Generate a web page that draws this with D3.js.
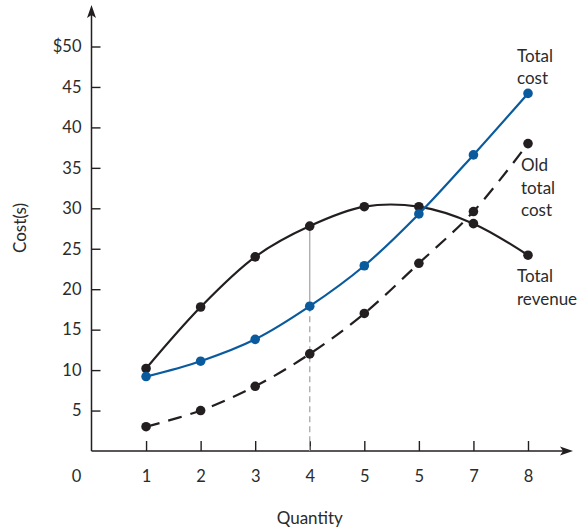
<!DOCTYPE html>
<html><head><meta charset="utf-8">
<script src="https://cdn.jsdelivr.net/npm/d3@7"></script>
<style>
html,body{margin:0;padding:0;background:#fff;}
text{font-family:Lato,"Open Sans",sans-serif;fill:#2b2b2b;}
</style></head>
<body><svg id="c" width="583" height="531"></svg>
<script>
const quantities = [1,2,3,4,5,6,7,8];
const totalRevenue = [10.2,17.8,24.0,27.8,30.2,30.2,28.1,24.2];
const totalCost = [9.2,11.1,13.8,17.9,22.9,29.3,36.6,44.2];
const oldTotalCost = [3.0,5.0,8.0,12.0,17.0,23.2,29.6,38.0];
const xTickValues = [1,2,3,4,5,6,7,8];
const xTickLabels = ["1","2","3","4","5","5","7","8"];
const originLabel = "0";
const yTickValues = [5,10,15,20,25,30,35,40,45,50];
const yTickLabels = ["5","10","15","20","25","30","35","40","45","$50"];
const highlightQ = 4;

const svg = d3.select("#c");
const x = d3.scaleLinear().domain([0,8]).range([91.5,528]);
const y = d3.scaleLinear().domain([0,50]).range([451,46.5]);
const ink = "#231f20", blue = "#0a5a9e";
const tickFont = "16.5px", labelFont = "17px";

// axes
const xa = svg.append("g").attr("transform",`translate(0,${y(0)})`)
  .call(d3.axisBottom(x).tickValues(xTickValues).tickFormat((d,i)=>xTickLabels[i]).tickSize(-10).tickPadding(19));
const ya = svg.append("g").attr("transform",`translate(${x(0)},0)`)
  .call(d3.axisLeft(y).tickValues(yTickValues).tickFormat((d,i)=>yTickLabels[i]).tickSize(-9).tickPadding(10));
[xa,ya].forEach(g=>{
  g.select(".domain").remove();
  g.selectAll(".tick line").attr("stroke",ink).attr("stroke-width",1.4);
  g.selectAll(".tick text").style("font-size",tickFont).attr("fill","#2b2b2b");
});
svg.append("text").attr("x",x(0)-15).attr("y",y(0)+19).attr("dy","0.71em")
  .attr("text-anchor","middle").style("font-size",tickFont).text(originLabel);

// axis lines with arrows
svg.append("line").attr("x1",x(0)).attr("y1",y(0)).attr("x2",x(0)).attr("y2",12)
  .attr("stroke",ink).attr("stroke-width",1.5);
svg.append("line").attr("x1",x(0)).attr("y1",y(0)).attr("x2",566).attr("y2",y(0))
  .attr("stroke",ink).attr("stroke-width",1.5);
const ax = x(0);
svg.append("path").attr("d",`M${ax},5 L${ax+4.5},18 L${ax},15 L${ax-4.5},18 Z`).attr("fill",ink);
const ay = y(0);
svg.append("path").attr("d",`M573,${ay} L560,${ay-4.5} L563,${ay} L560,${ay+4.5} Z`).attr("fill",ink);

// highlight vertical line at q=4
const i4 = quantities.indexOf(highlightQ);
svg.append("line").attr("x1",x(highlightQ)).attr("x2",x(highlightQ))
  .attr("y1",y(totalRevenue[i4])).attr("y2",y(totalCost[i4]))
  .attr("stroke","#a8a8a8").attr("stroke-width",1.3);
svg.append("line").attr("x1",x(highlightQ)).attr("x2",x(highlightQ))
  .attr("y1",y(totalCost[i4])).attr("y2",y(0))
  .attr("stroke","#a8a8a8").attr("stroke-width",1.3).attr("stroke-dasharray","6,4");

const line = d3.line().x(d=>x(d[0])).y(d=>y(d[1])).curve(d3.curveCatmullRom.alpha(0.5));
function series(vals,color,dash){
  const pts = quantities.map((q,i)=>[q,vals[i]]);
  svg.append("path").attr("d",line(pts)).attr("fill","none").attr("stroke",color)
    .attr("stroke-width",2.2).attr("stroke-dasharray",dash||null);
  svg.append("g").selectAll("circle").data(pts).join("circle")
    .attr("cx",d=>x(d[0])).attr("cy",d=>y(d[1])).attr("r",4.8).attr("fill",color);
}
series(oldTotalCost,ink,"14,9");
series(totalRevenue,ink);
series(totalCost,blue);

// labels
function label(lines,x0,y0,dy){
  const t = svg.append("text").attr("x",x0).attr("y",y0).style("font-size",labelFont);
  lines.forEach((s,i)=>t.append("tspan").attr("x",x0).attr("y",y0+i*dy).text(s));
}
label(["Total","cost"],517,62,22);
label(["Old","total","cost"],521,171,22.5);
label(["Total","revenue"],517,282,23);

svg.append("text").attr("x",x(4)).attr("y",524).attr("text-anchor","middle")
  .style("font-size",labelFont).text("Quantity");
svg.append("text").attr("transform","translate(26,228) rotate(-90)").attr("text-anchor","middle")
  .style("font-size",labelFont).text("Cost(s)");
</script></body></html>
